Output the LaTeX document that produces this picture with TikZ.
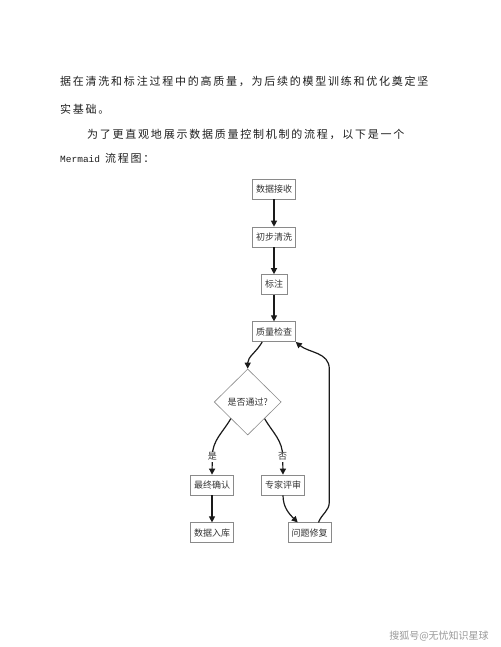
\documentclass[tikz,border=0pt]{standalone}
\usepackage{fontspec}
\setmainfont{Liberation Serif}
\newfontfamily\cjk{Noto Sans CJK SC}
\newfontfamily\cjkb[LetterSpace=16]{Noto Sans CJK SC}
\newfontfamily\mono{Liberation Mono}
\usetikzlibrary{shapes.geometric,arrows.meta}
\definecolor{boxgray}{HTML}{8A8A8A}
\definecolor{txt}{HTML}{333333}
\definecolor{ln}{HTML}{1A1A1A}
\definecolor{bodytxt}{HTML}{1E1E1E}
\definecolor{wm}{HTML}{9A9A9A}
\begin{document}
\begin{tikzpicture}[x=1pt,y=1pt,
  box/.style={draw=boxgray,line width=0.6pt,minimum height=20pt,minimum width=43pt,inner sep=0pt,
    font=\cjk\fontsize{9}{10}\selectfont,text=txt},
  arr/.style={-{Triangle[length=6pt,width=6pt]},line width=1.2pt,draw=ln},
  body/.style={anchor=west,inner sep=0pt,font=\cjkb\fontsize{11}{13}\selectfont,text=bodytxt},
  lab/.style={fill=white,inner sep=1pt,font=\cjk\fontsize{9}{10}\selectfont,text=txt}]
\useasboundingbox (0,0) rectangle (500,647);
\fill[white] (0,0) rectangle (500,647);

% body text
\node[body] (t1) at (60,565.3) {据在清洗和标注过程中的高质量，为后续的模型训练和优化奠定坚};
\node[body] (t2) at (60,537.7) {实基础。};
\node[body] (t3) at (87,513) {为了更直观地展示数据质量控制机制的流程，以下是一个};
\node[body] (t4) at (60,488.3) {{\mono\fontsize{9.5}{11}\selectfont Mermaid}\hspace{5pt}流程图：};

% flowchart nodes
\node[box] (n1) at (274,458) {数据接收};
\node[box] (n2) at (274,410) {初步清洗};
\node[box,minimum width=26pt] (n3) at (274,362.5) {标注};
\node[box] (n4) at (274,315.3) {质量检查};
\node[diamond,draw=boxgray,line width=0.6pt,minimum width=67pt,minimum height=66pt,inner sep=0pt,
  font=\cjk\fontsize{9}{10}\selectfont,text=txt] (d) at (247.7,245) {是否通过?};
\node[box] (n5) at (212,162) {最终确认};
\node[box] (n6) at (212,114.3) {数据入库};
\node[box] (n7) at (283,162) {专家评审};
\node[box] (n8) at (309.5,114.3) {问题修复};

\coordinate (ly) at (212.3,190.3);
\coordinate (ln) at (282.7,190.3);

% connectors
\draw[arr] (n1) -- (n2);
\draw[arr] (n2) -- (n3);
\draw[arr] (n3) -- (n4);
\draw[arr] ([xshift=10pt]n4.south west) to[out=-120,in=90] (d.north);
\draw[arr] (d.south west) to[out=-120,in=90] (ly) -- (n5.north);
\draw[arr] (d.south east) to[out=-60,in=90] (ln) -- (n7.north);
\draw[arr] (n5) -- (n6);
\draw[arr] (n7.south) to[out=-90,in=135] ([xshift=10pt]n8.north west);
\draw[arr] ([xshift=9pt]n8.north) to[out=70,in=-90] (329.3,145) -- (329.3,278) to[out=90,in=-40] (n4.south east);

% edge labels
\node[lab] (lyes) at (ly) {是};
\node[lab] (lno) at (ln) {否};

% watermark
\node[inner sep=0pt,font=\cjk\fontsize{10}{12}\selectfont,text=wm] (wmk) at (439,11) {搜狐号@无忧知识星球};
\end{tikzpicture}
\end{document}
